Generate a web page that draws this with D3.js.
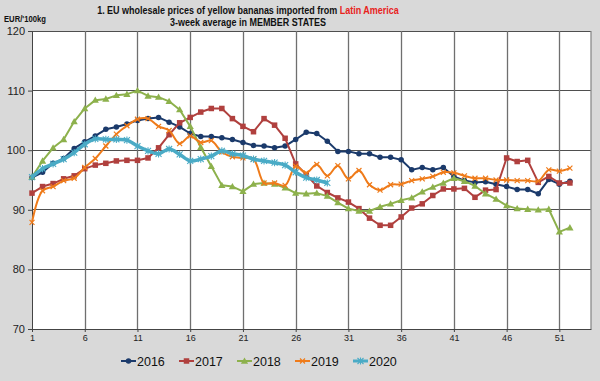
<!DOCTYPE html>
<html><head><meta charset="utf-8">
<script src="https://cdn.jsdelivr.net/npm/d3@7"></script>
<style>body{margin:0;background:#d9d9d9;}svg{display:block;font-family:"Liberation Sans",Arial,sans-serif;}</style>
</head><body><div id="chart"></div>
<script>
const weeks = d3.range(1, 53);
const xTicks = [1,6,11,16,21,26,31,36,41,46,51];
const yTicks = [70,80,90,100,110,120];
const years = ["2016","2017","2018","2019","2020"];
const v2016 = [95.4,96.3,97.8,98.6,100.3,101.4,102.4,103.5,103.9,104.4,105.0,105.3,105.5,104.7,103.9,102.8,102.3,102.3,102.1,101.8,101.3,100.8,100.7,100.4,100.7,101.8,103.0,102.8,101.5,99.8,99.8,99.4,99.4,98.8,98.8,98.4,96.7,97.1,96.7,97.1,95.6,94.9,94.6,94.7,94.3,93.9,93.4,93.4,92.7,95.1,94.3,94.8];
const v2017 = [92.8,93.9,94.4,95.2,95.7,96.9,97.5,97.8,98.2,98.3,98.3,98.7,100.4,102.6,104.6,105.5,106.4,107.0,107.0,105.3,104.0,103.1,105.3,104.2,102.0,97.7,95.9,94.0,92.9,92.0,91.3,90.2,88.6,87.4,87.4,88.8,90.3,91.0,92.4,93.5,93.5,93.6,92.1,93.3,93.4,98.7,98.1,98.3,94.6,95.6,94.5,94.5];
const v2018 = [95.5,98.2,100.4,101.8,104.8,107.0,108.4,108.6,109.2,109.4,110.0,109.1,108.9,108.2,106.8,104.0,100.5,97.3,94.1,93.9,93.1,94.3,94.5,94.3,93.7,92.8,92.7,92.8,92.3,91.2,90.2,89.8,89.8,90.5,91.0,91.6,92.0,93.0,93.8,94.5,95.3,94.8,94.0,92.7,91.8,90.7,90.2,90.1,90.0,90.1,86.3,87.0];
const v2019 = [87.9,93.2,93.9,94.9,95.3,97.1,98.6,100.7,102.7,104.1,105.2,105.3,104.0,103.3,101.1,102.4,101.3,101.6,99.7,98.9,98.7,98.5,94.5,94.5,94.1,97.3,96.2,97.6,95.7,97.4,95.2,96.6,94.2,93.3,94.2,94.3,94.9,95.2,95.6,96.3,96.2,95.7,95.3,95.3,95.0,95.0,94.9,94.9,94.8,96.7,96.5,97.0];
const v2020 = [95.5,96.9,97.7,98.5,99.6,101.0,101.9,101.8,101.8,101.7,100.7,99.9,99.4,100.2,99.3,98.2,98.5,99.0,99.9,99.4,99.1,98.5,98.2,97.9,97.5,96.3,95.4,95.0,94.5];
const seriesValues = [v2016, v2017, v2018, v2019, v2020];
const colors = ["#1b3a6b","#b0403e","#8db14c","#ef7b1a","#4aabc6"];
const markers = ["circle","square","triangle","x","asterisk"];
const smooth = [false,false,false,true,true];
const widths = [2,2,2,2,3.5];

const W = 600, H = 381;
const svg = d3.select("#chart").append("svg").attr("width", W).attr("height", H);
svg.append("rect").attr("width", W).attr("height", H).attr("fill", "#d9d9d9");
const L = 32, R = 591, T = 31, B = 329;
const x = d3.scaleLinear().domain([1, 54]).range([L, R]);
const y = d3.scaleLinear().domain([70, 120]).range([B, T]);

svg.append("rect").attr("x", L).attr("y", T).attr("width", R - L).attr("height", B - T).attr("fill", "#fff");

// grid
const g = svg.append("g");
g.selectAll(".hg").data(yTicks.filter(d => d > 70)).join("line")
  .attr("x1", L).attr("x2", R).attr("y1", d => y(d)).attr("y2", d => y(d))
  .attr("stroke", "#4f4f4f").attr("stroke-width", 1).attr("shape-rendering","crispEdges");
g.selectAll(".vg").data(xTicks.filter(d => d > 1)).join("line")
  .attr("x1", d => Math.round(x(d))+0.5).attr("x2", d => Math.round(x(d))+0.5).attr("y1", T).attr("y2", B)
  .attr("stroke", "#6f6f6f").attr("stroke-width", 1.3);
g.append("line").attr("x1", R).attr("x2", R).attr("y1", T).attr("y2", B).attr("stroke", "#8a8a8a").attr("stroke-width", 1.3);

// axes
const yAxis = d3.axisLeft(y).tickValues(yTicks).tickSize(4).tickPadding(3);
const ya = svg.append("g").attr("transform", `translate(${L},0)`).call(yAxis);
ya.select(".domain").attr("stroke", "#444");
ya.selectAll(".tick line").attr("stroke", "#444");
ya.selectAll("text").attr("font-size", 11).attr("fill", "#222").attr("font-family", "Liberation Sans, Arial");

const xAxis = d3.axisBottom(x).tickValues(xTicks).tickSize(3).tickPadding(3).tickSizeOuter(0);
const xa = svg.append("g").attr("transform", `translate(0,${B})`).call(xAxis);
xa.select(".domain").attr("stroke", "#444");
xa.selectAll(".tick line").attr("stroke", "#444");
xa.selectAll("text").attr("font-size", 9).attr("fill", "#222").attr("font-family", "Liberation Sans, Arial");

// marker drawing
function drawMarker(sel, type, color, size) {
  const s = size;
  if (type === "circle") sel.append("circle").attr("r", s*0.55).attr("fill", color);
  else if (type === "square") sel.append("rect").attr("x", -s/2).attr("y", -s/2).attr("width", s).attr("height", s).attr("fill", color);
  else if (type === "triangle") sel.append("path").attr("d", `M0,${-s*0.6}L${s*0.6},${s*0.45}L${-s*0.6},${s*0.45}Z`).attr("fill", color);
  else if (type === "x") sel.append("path").attr("d", `M${-s/2},${-s/2}L${s/2},${s/2}M${-s/2},${s/2}L${s/2},${-s/2}`).attr("stroke", color).attr("stroke-width", 1.2).attr("fill","none");
  else if (type === "asterisk") sel.append("path").attr("d", `M${-s/2},${-s/2}L${s/2},${s/2}M${-s/2},${s/2}L${s/2},${-s/2}M0,${-s*0.6}L0,${s*0.6}`).attr("stroke", color).attr("stroke-width", 1.1).attr("fill","none");
}
const msize = [5,5.5,6,5,6];

seriesValues.forEach((vals, i) => {
  const data = vals.map((v, j) => ({w: weeks[j], v}));
  const line = d3.line().x(d => x(d.w)).y(d => y(d.v))
    .curve(smooth[i] ? d3.curveCatmullRom.alpha(0.5) : d3.curveLinear);
  const gs = svg.append("g");
  gs.append("path").attr("d", line(data)).attr("fill", "none").attr("stroke", colors[i])
    .attr("stroke-width", widths[i]).attr("stroke-linejoin", "round");
  gs.selectAll("g.m").data(data).join("g").attr("transform", d => `translate(${x(d.w)},${y(d.v)})`)
    .each(function() { drawMarker(d3.select(this), markers[i], colors[i], msize[i]); });
});

// fit a text horizontally to a target width by scaling around its anchor
function fitText(sel, cx, targetW) {
  const w = sel.node().getComputedTextLength();
  const k = targetW / w;
  sel.attr("transform", `translate(${cx},0) scale(${k},1) translate(${-cx},0)`);
}
const title = svg.append("text").attr("x", 248).attr("y", 14).attr("text-anchor", "middle")
  .attr("font-size", 10.5).attr("font-weight", "bold").attr("fill", "#111");
title.append("tspan").text("1. EU wholesale prices of yellow bananas imported from ");
title.append("tspan").attr("fill", "#e8221c").text("Latin America");
fitText(title, 248, 302);
const sub = svg.append("text").attr("x", 248).attr("y", 26.5).attr("text-anchor", "middle")
  .attr("font-size", 10.5).attr("font-weight", "bold").attr("fill", "#111").text("3-week average in MEMBER STATES");
fitText(sub, 248, 156);
const unit = svg.append("text").attr("x", 4).attr("y", 22.5).attr("font-size", 8.5).attr("font-weight", "bold").attr("fill", "#111")
  .text("EUR/'100kg");
fitText(unit, 4, 42);

// legend
const lg = svg.append("g");
years.forEach((yr, i) => {
  const lx = 121 + i * 58, ly = 361;
  const it = lg.append("g");
  it.append("line").attr("x1", lx).attr("x2", lx + 15).attr("y1", ly).attr("y2", ly)
    .attr("stroke", colors[i]).attr("stroke-width", widths[i] > 3 ? 3 : 2);
  drawMarker(it.append("g").attr("transform", `translate(${lx+7.5},${ly})`), markers[i], colors[i], msize[i]);
  it.append("text").attr("x", lx + 16).attr("y", ly + 4.5).attr("font-size", 12.5).attr("fill", "#111").text(yr);
});
</script></body></html>
